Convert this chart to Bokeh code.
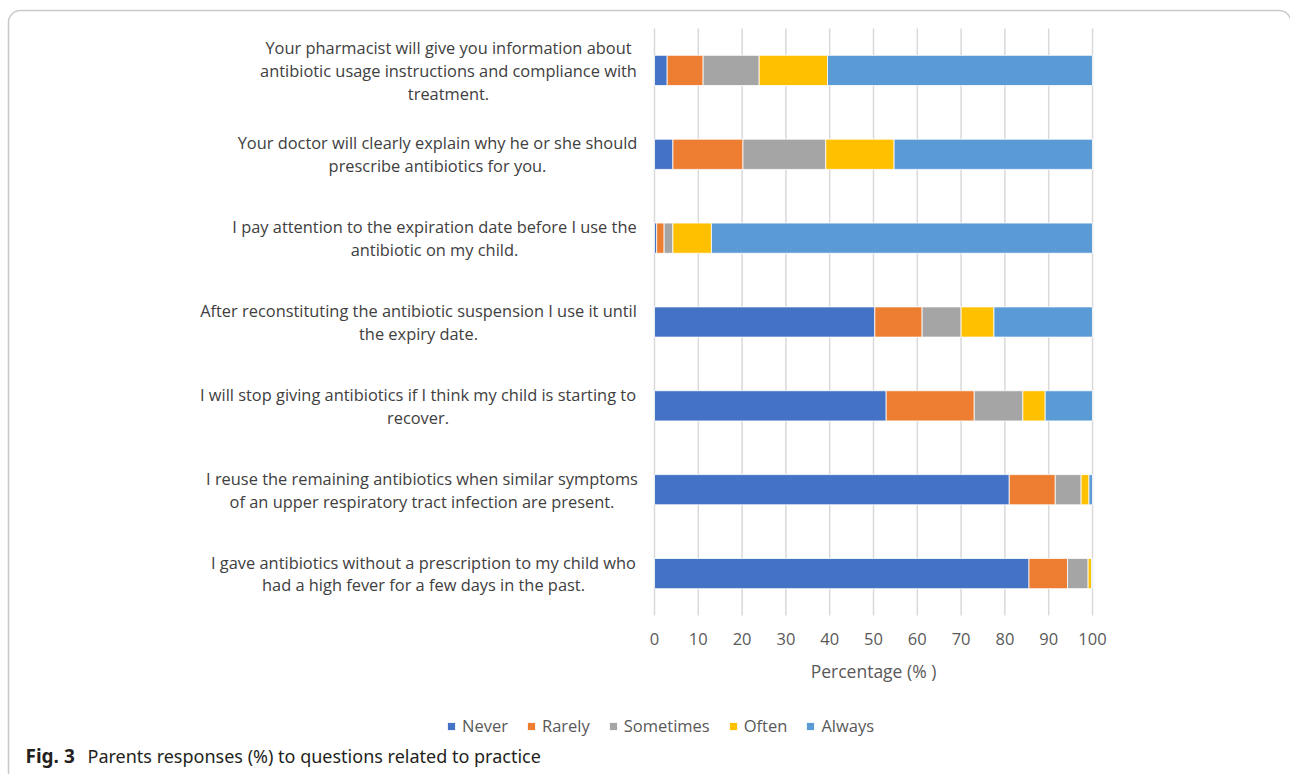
from bokeh.plotting import figure
from bokeh.models import (ColumnDataSource, Range1d, Label, Legend,
                          LegendItem, BoxAnnotation)
from bokeh.core.properties import value
from bokeh.embed import file_html
from bokeh.resources import INLINE

# ---- data (top to bottom as in the chart) ----
questions = [
    "Your pharmacist will give you information about\nantibiotic usage instructions and compliance with\ntreatment.",
    "Your doctor will clearly explain why he or she should\nprescribe antibiotics for you.",
    "I pay attention to the expiration date before I use the\nantibiotic on my child.",
    "After reconstituting the antibiotic suspension I use it until\nthe expiry date.",
    "I will stop giving antibiotics if I think my child is starting to\nrecover.",
    "I reuse the remaining antibiotics when similar symptoms\nof an upper respiratory tract infection are present.",
    "I gave antibiotics without a prescription to my child who\nhad a high fever for a few days in the past.",
]
never = [2.9, 4.2, 0.5, 50.3, 52.9, 81.0, 85.5]
rarely = [8.2, 16.0, 1.7, 10.8, 20.1, 10.5, 8.8]
sometimes = [12.8, 18.9, 2.0, 8.9, 11.1, 5.9, 4.7]
often = [15.6, 15.6, 8.8, 7.5, 5.1, 1.8, 0.8]
always = [60.5, 45.3, 87.0, 22.5, 10.8, 0.8, 0.2]
responses = ["Never", "Rarely", "Sometimes", "Often", "Always"]
x_ticks = [0, 10, 20, 30, 40, 50, 60, 70, 80, 90, 100]
x_title = "Percentage (% )"
caption_bold = "Fig. 3"
caption_text = "Parents responses (%) to questions related to practice"

colors = ["#4472C4", "#ED7D31", "#A5A5A5", "#FFC000", "#5B9BD5"]

# ---- layout constants (pixels) ----
W, H = 1290, 774
FL, FR, FT, FB = 654, 1092, 28, 615        # plotting area edges
label_centers_px = [448, 437, 434, 418, 417.5, 421.5, 423]
n = len(questions)
sx = (FR - FL) / 100.0
sy = (FB - FT) / n

def dx(px):
    return (px - FL) / sx

def dy(py):
    return (FB - py) / sy - 0.5

ypos = [n - 1 - i for i in range(n)]  # first question on top

src = ColumnDataSource(dict(
    y=ypos, Never=never, Rarely=rarely, Sometimes=sometimes,
    Often=often, Always=always))

p = figure(width=W, height=H, output_backend="svg", toolbar_location=None,
           x_range=Range1d(dx(0), dx(W)), y_range=Range1d(dy(H), dy(0)),
           min_border=0)
p.outline_line_color = None
p.background_fill_color = "white"
p.border_fill_color = "white"
p.xaxis.visible = False
p.yaxis.visible = False
p.grid.visible = False

# vertical gridlines at the tick values
p.segment(x0=x_ticks, x1=x_ticks, y0=[dy(FT)] * len(x_ticks),
          y1=[dy(FB)] * len(x_ticks), line_color="#D9D9D9", line_width=1.5)

rs = p.hbar_stack(responses, y="y", height=0.36, color=colors, source=src,
                  line_color="white", line_width=0.8)

# x tick labels and axis title
p.text(x=x_ticks, y=[dy(638)] * len(x_ticks), text=[str(t) for t in x_ticks],
       text_align="center", text_baseline="middle",
       text_font=value("Open Sans"), text_font_size="16.5px",
       text_color="#595959")
p.add_layout(Label(x=50, y=dy(670), text=x_title, text_align="center",
                   text_baseline="middle", text_font="Open Sans",
                   text_font_size="17.5px", text_color="#595959"))

# category labels
for i, (q, cx) in enumerate(zip(questions, label_centers_px)):
    p.add_layout(Label(x=dx(cx), y=ypos[i], text=q, text_align="center",
                       text_baseline="middle", text_font="Open Sans",
                       text_font_size="16.4px", text_color="#404040",
                       text_line_height=0.99))

# legend
items = [LegendItem(label=r_, renderers=[r]) for r_, r in zip(responses, rs)]
legend = Legend(items=items, orientation="horizontal",
                location=(446, H - 737),
                glyph_width=10, glyph_height=10, label_standoff=6, spacing=18,
                label_text_font="Open Sans", label_text_font_size="16.5px",
                label_text_color="#595959", border_line_color=None,
                background_fill_alpha=0, padding=4, margin=0)
p.add_layout(legend, "center")

# rounded border box (right and bottom edges run off the page)
p.add_layout(BoxAnnotation(left=dx(8), right=dx(1290.5), top=dy(10), bottom=dy(790),
                           fill_color=None, line_color="#4D4D4D", line_width=1.5,
                           border_radius=12))

# caption
p.add_layout(Label(x=dx(25), y=dy(755), text=caption_bold, text_font="Noto Sans",
                   text_font_style="bold", text_font_size="19px",
                   text_color="#231F20", text_baseline="middle"))
p.add_layout(Label(x=dx(87), y=dy(755), text=caption_text,
                   text_font="Noto Sans", text_font_size="18px",
                   text_color="#231F20", text_baseline="middle"))

open("out.html", "w").write(file_html(p, INLINE))
